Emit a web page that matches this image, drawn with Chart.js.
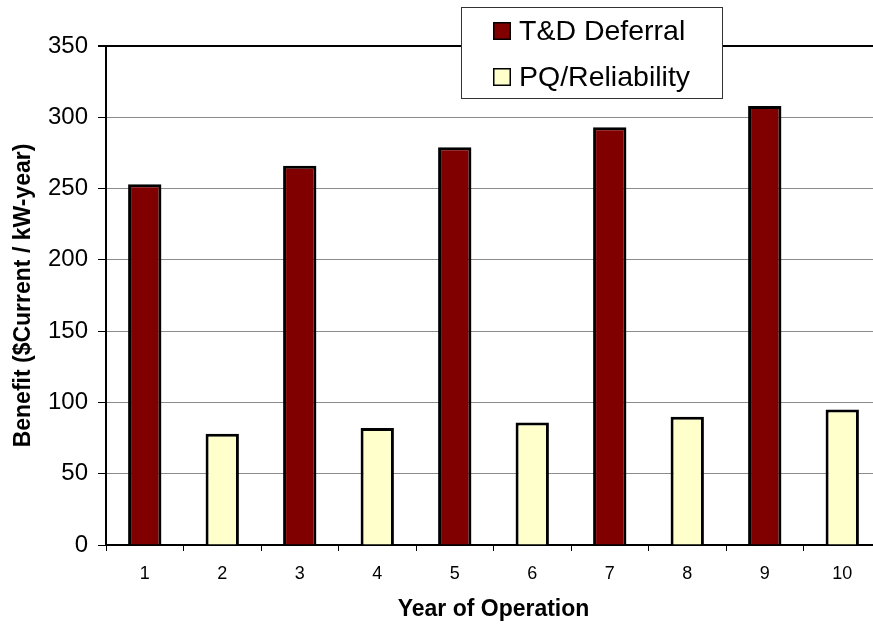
<!DOCTYPE html>
<html lang="en">
<head>
    <meta charset="UTF-8">
    <title>Benefit by Year of Operation</title>
    <script src="https://cdn.jsdelivr.net/npm/chart.js"></script>
    <style>
        html, body {
            margin: 0;
            padding: 0;
            background: white;
            overflow: hidden;
        }
        .chart-box {
            position: relative;
            width: 882px;
            height: 624px;
        }
    </style>
</head>
<body>
    <div class="chart-box">
        <canvas id="benefitChart"></canvas>
    </div>

    <script>
        // data
        const years = ['1', '2', '3', '4', '5', '6', '7', '8', '9', '10'];
        const tdDeferral = [253, null, 266, null, 279, null, 293, null, 308, null];
        const pqReliability = [null, 78, null, 82, null, 86, null, 90, null, 95];
        const seriesNames = ['T&D Deferral', 'PQ/Reliability'];
        const yTicks = [0, 50, 100, 150, 200, 250, 300, 350];

        const FONT = "'Liberation Sans', Arial, sans-serif";

        // boxed legend drawn over the top of the plot, like the original
        const boxLegend = {
            id: 'boxLegend',
            afterDraw(chart) {
                const ctx = chart.ctx;
                ctx.save();
                ctx.fillStyle = '#ffffff';
                ctx.fillRect(461, 7, 261, 91);
                ctx.strokeStyle = '#333333';
                ctx.lineWidth = 1;
                ctx.strokeRect(461.5, 7.5, 261, 91);

                chart.data.datasets.forEach((ds, i) => {
                    const y = 22 + i * 46;
                    ctx.fillStyle = ds.backgroundColor;
                    ctx.fillRect(493, y, 18, 18);
                    ctx.strokeStyle = '#000000';
                    ctx.lineWidth = 1.5;
                    ctx.strokeRect(493.75, y + 0.75, 16.5, 16.5);
                    ctx.fillStyle = '#000000';
                    ctx.font = '28.5px ' + FONT;
                    ctx.textBaseline = 'middle';
                    ctx.textAlign = 'left';
                    ctx.fillText(ds.label, 519, y + 10);
                });
                ctx.restore();
            }
        };

        new Chart(document.getElementById('benefitChart'), {
            type: 'bar',
            data: {
                labels: years,
                datasets: [
                    {
                        label: seriesNames[0],
                        data: tdDeferral,
                        backgroundColor: '#800000',
                        borderColor: '#000000',
                        borderWidth: 3
                    },
                    {
                        label: seriesNames[1],
                        data: pqReliability,
                        backgroundColor: '#FFFFCC',
                        borderColor: '#000000',
                        borderWidth: 3
                    }
                ]
            },
            options: {
                responsive: true,
                maintainAspectRatio: false,
                animation: false,
                layout: {
                    padding: { top: 46, right: 1, left: 0, bottom: 0 }
                },
                datasets: {
                    bar: {
                        barPercentage: 0.43,
                        categoryPercentage: 1.0
                    }
                },
                plugins: {
                    legend: { display: false },
                    tooltip: { enabled: false }
                },
                scales: {
                    x: {
                        stacked: true,
                        grid: {
                            drawOnChartArea: false,
                            drawTicks: true,
                            tickLength: 6,
                            tickColor: '#000000',
                            offset: true
                        },
                        border: { color: '#000000', width: 2 },
                        ticks: {
                            color: '#000000',
                            font: { family: FONT, size: 18 },
                            padding: 12,
                            maxRotation: 0
                        },
                        title: {
                            display: true,
                            text: 'Year of Operation',
                            color: '#000000',
                            font: { family: FONT, size: 23, weight: 'bold' },
                            padding: { top: 0, bottom: 1 }
                        },
                        afterFit(scale) {
                            scale.height = 79;
                        }
                    },
                    y: {
                        stacked: true,
                        min: 0,
                        max: 350,
                        afterBuildTicks(scale) {
                            scale.ticks = yTicks.map(v => ({ value: v }));
                        },
                        grid: {
                            color: ctx => ctx.tick && ctx.tick.value === 350 ? '#000000' : '#8c8c8c',
                            lineWidth: ctx => ctx.tick && ctx.tick.value === 350 ? 2 : 1,
                            tickColor: '#000000',
                            tickLength: 8,
                            drawTicks: true
                        },
                        border: { color: '#000000', width: 2 },
                        ticks: {
                            color: '#000000',
                            font: { family: FONT, size: 24 },
                            padding: 10
                        },
                        title: {
                            display: true,
                            text: 'Benefit ($Current / kW-year)',
                            color: '#000000',
                            font: { family: FONT, size: 23, weight: 'bold' },
                            padding: { top: 10, bottom: 0 }
                        },
                        afterFit(scale) {
                            scale.width = 106;
                        }
                    }
                }
            },
            plugins: [boxLegend]
        });
    </script>
</body>
</html>
